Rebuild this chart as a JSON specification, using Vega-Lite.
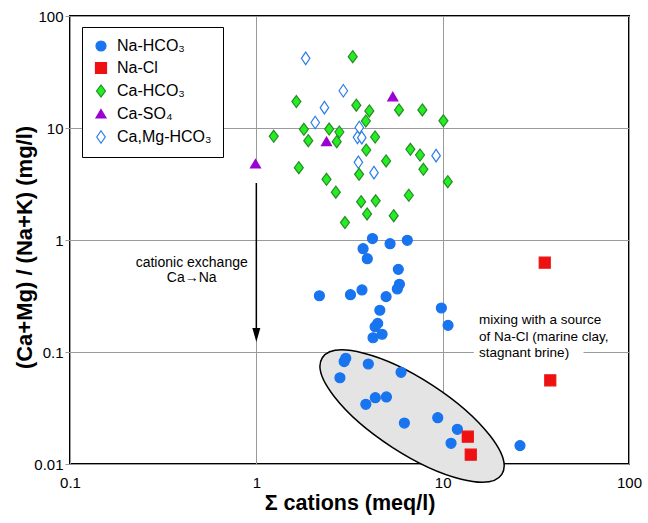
{
  "$schema": "https://vega.github.io/schema/vega-lite/v6.json",
  "width": 559,
  "height": 448,
  "autosize": {"type": "none"},
  "padding": {"left": 70, "top": 16, "right": 19, "bottom": 59},
  "background": "white",
  "config": {
    "view": {"stroke": "#000", "strokeWidth": 2},
    "font": "Liberation Sans",
    "text": {"font": "Liberation Sans"}
  },
  "datasets": {
    "samples": [
      {"type": "Ca,Mg-HCO3", "x": 1.84, "y": 41.9},
      {"type": "Ca,Mg-HCO3", "x": 2.93, "y": 21.5},
      {"type": "Ca,Mg-HCO3", "x": 2.32, "y": 15.2},
      {"type": "Ca,Mg-HCO3", "x": 2.07, "y": 11.2},
      {"type": "Ca,Mg-HCO3", "x": 3.57, "y": 10.1},
      {"type": "Ca,Mg-HCO3", "x": 3.49, "y": 8.25},
      {"type": "Ca,Mg-HCO3", "x": 3.68, "y": 8.19},
      {"type": "Ca,Mg-HCO3", "x": 3.53, "y": 4.94},
      {"type": "Ca,Mg-HCO3", "x": 4.28, "y": 3.99},
      {"type": "Ca,Mg-HCO3", "x": 9.22, "y": 5.66},
      {"type": "Ca-HCO3", "x": 3.29, "y": 43.3},
      {"type": "Ca-HCO3", "x": 1.64, "y": 17.2},
      {"type": "Ca-HCO3", "x": 3.44, "y": 16.0},
      {"type": "Ca-HCO3", "x": 4.04, "y": 14.2},
      {"type": "Ca-HCO3", "x": 3.87, "y": 11.55},
      {"type": "Ca-HCO3", "x": 5.83, "y": 14.5},
      {"type": "Ca-HCO3", "x": 7.78, "y": 14.5},
      {"type": "Ca-HCO3", "x": 10.09, "y": 11.6},
      {"type": "Ca-HCO3", "x": 1.24, "y": 8.43},
      {"type": "Ca-HCO3", "x": 1.8, "y": 9.73},
      {"type": "Ca-HCO3", "x": 1.9, "y": 7.7},
      {"type": "Ca-HCO3", "x": 2.46, "y": 9.79},
      {"type": "Ca-HCO3", "x": 2.79, "y": 9.21},
      {"type": "Ca-HCO3", "x": 2.7, "y": 7.55},
      {"type": "Ca-HCO3", "x": 4.34, "y": 8.31},
      {"type": "Ca-HCO3", "x": 3.89, "y": 6.36},
      {"type": "Ca-HCO3", "x": 6.71, "y": 6.45},
      {"type": "Ca-HCO3", "x": 7.56, "y": 5.74},
      {"type": "Ca-HCO3", "x": 4.97, "y": 5.08},
      {"type": "Ca-HCO3", "x": 7.88, "y": 4.28},
      {"type": "Ca-HCO3", "x": 1.69, "y": 4.42},
      {"type": "Ca-HCO3", "x": 3.56, "y": 3.86},
      {"type": "Ca-HCO3", "x": 2.38, "y": 3.48},
      {"type": "Ca-HCO3", "x": 10.65, "y": 3.32},
      {"type": "Ca-HCO3", "x": 2.67, "y": 2.67},
      {"type": "Ca-HCO3", "x": 3.65, "y": 2.2},
      {"type": "Ca-HCO3", "x": 4.37, "y": 2.24},
      {"type": "Ca-HCO3", "x": 6.58, "y": 2.51},
      {"type": "Ca-HCO3", "x": 3.93, "y": 1.71},
      {"type": "Ca-HCO3", "x": 5.46, "y": 1.65},
      {"type": "Ca-HCO3", "x": 2.99, "y": 1.43},
      {"type": "Ca-SO4", "x": 5.4, "y": 19.0},
      {"type": "Ca-SO4", "x": 2.38, "y": 7.55},
      {"type": "Ca-SO4", "x": 0.99, "y": 4.77},
      {"type": "Na-HCO3", "x": 4.2, "y": 1.03},
      {"type": "Na-HCO3", "x": 5.22, "y": 0.927},
      {"type": "Na-HCO3", "x": 6.46, "y": 0.994},
      {"type": "Na-HCO3", "x": 3.74, "y": 0.836},
      {"type": "Na-HCO3", "x": 3.94, "y": 0.681},
      {"type": "Na-HCO3", "x": 5.78, "y": 0.547},
      {"type": "Na-HCO3", "x": 5.86, "y": 0.402},
      {"type": "Na-HCO3", "x": 5.71, "y": 0.365},
      {"type": "Na-HCO3", "x": 2.18, "y": 0.318},
      {"type": "Na-HCO3", "x": 3.2, "y": 0.325},
      {"type": "Na-HCO3", "x": 3.69, "y": 0.358},
      {"type": "Na-HCO3", "x": 4.97, "y": 0.312},
      {"type": "Na-HCO3", "x": 4.6, "y": 0.236},
      {"type": "Na-HCO3", "x": 9.84, "y": 0.247},
      {"type": "Na-HCO3", "x": 10.69, "y": 0.173},
      {"type": "Na-HCO3", "x": 4.48, "y": 0.18},
      {"type": "Na-HCO3", "x": 4.34, "y": 0.168},
      {"type": "Na-HCO3", "x": 4.73, "y": 0.144},
      {"type": "Na-HCO3", "x": 4.23, "y": 0.134},
      {"type": "Na-HCO3", "x": 3.02, "y": 0.0879},
      {"type": "Na-HCO3", "x": 2.96, "y": 0.0822},
      {"type": "Na-HCO3", "x": 3.99, "y": 0.0781},
      {"type": "Na-HCO3", "x": 5.98, "y": 0.0659},
      {"type": "Na-HCO3", "x": 2.81, "y": 0.0589},
      {"type": "Na-HCO3", "x": 4.35, "y": 0.0391},
      {"type": "Na-HCO3", "x": 4.99, "y": 0.0397},
      {"type": "Na-HCO3", "x": 3.87, "y": 0.0341},
      {"type": "Na-HCO3", "x": 6.23, "y": 0.0232},
      {"type": "Na-HCO3", "x": 9.41, "y": 0.0259},
      {"type": "Na-HCO3", "x": 11.99, "y": 0.0204},
      {"type": "Na-HCO3", "x": 11.09, "y": 0.0153},
      {"type": "Na-HCO3", "x": 26.0, "y": 0.0146},
      {"type": "Na-Cl", "x": 13.64, "y": 0.01753},
      {"type": "Na-Cl", "x": 14.15, "y": 0.01211},
      {"type": "Na-Cl", "x": 35.3, "y": 0.627},
      {"type": "Na-Cl", "x": 37.8, "y": 0.0559}
    ]
  },
  "encoding": {
    "x": {
      "field": "x", "type": "quantitative",
      "scale": {"type": "log", "domain": [0.1, 100], "nice": false},
      "axis": {
        "values": [0.1, 1, 10, 100], "format": "~g",
        "title": "Σ cations (meq/l)",
        "grid": true, "gridColor": "#9a9a9a", "gridWidth": 1,
        "ticks": false, "domain": false,
        "labelFontSize": 15, "labelColor": "#000", "labelPadding": 11,
        "labelFlush": false, "labelOverlap": false,
        "titleFontSize": 21.5, "titleFontWeight": "bold", "titleColor": "#000",
        "titleY": 39, "titleBaseline": "middle"
      }
    },
    "y": {
      "field": "y", "type": "quantitative",
      "scale": {"type": "log", "domain": [0.01, 100], "nice": false},
      "axis": {
        "values": [0.01, 0.1, 1, 10, 100], "format": "~g",
        "title": "(Ca+Mg) / (Na+K) (mg/l)",
        "grid": true, "gridColor": "#9a9a9a", "gridWidth": 1,
        "ticks": true, "tickSize": 5, "tickColor": "#9a9a9a", "domain": false,
        "labelFontSize": 15, "labelColor": "#000", "labelPadding": 2,
        "labelFlush": false, "labelOverlap": false,
        "titleFontSize": 22, "titleFontWeight": "bold", "titleColor": "#000",
        "titleX": -46, "titleY": 231, "titleAngle": -90,
        "titleBaseline": "middle", "titleAlign": "center"
      }
    }
  },
  "layer": [
    {
      "data": {"values": [{"x": 6.85, "y": 0.0268}]},
      "mark": {
        "type": "point",
        "shape": "M 107 0 C 107 20.4 59.1 37 0 37 C -59.1 37 -107 20.4 -107 0 C -107 -20.4 -59.1 -37 0 -37 C 59.1 -37 107 -20.4 107 0 Z",
        "size": 4, "angle": 33, "filled": true,
        "fill": "#e4e4e4", "stroke": "#000", "strokeWidth": 1.5, "opacity": 1
      }
    },
    {
      "data": {"values": [{"x": 14.7, "x2": 57, "y": 0.0866, "y2": 0.1155}]},
      "mark": {"type": "rect", "fill": "#fff"},
      "encoding": {"x2": {"field": "x2"}, "y2": {"field": "y2"}}
    },
    {
      "data": {"values": [{"x": 1, "y": 4.4, "y2": 3.2}]},
      "mark": {"type": "rule", "color": "#fff", "strokeWidth": 3},
      "encoding": {"y2": {"field": "y2"}}
    },
    {
      "data": {"name": "samples"},
      "mark": {"type": "point", "size": 100, "opacity": 1, "strokeWidth": 1.2},
      "encoding": {
        "fill": {
          "field": "type", "type": "nominal",
          "scale": {
            "domain": ["Na-HCO3", "Na-Cl", "Ca-HCO3", "Ca-SO4", "Ca,Mg-HCO3"],
            "range": ["#1874ef", "#ee1111", "#22ee22", "#9b00d3", "#ffffff"]
          },
          "legend": {
            "title": null, "orient": "none", "legendX": 12, "legendY": 11,
            "labelFontSize": 16, "labelColor": "#000", "padding": 11,
            "strokeColor": "#000", "fillColor": "#fff",
            "rowPadding": 6, "labelOffset": 8, "symbolSize": 100,
            "symbolStrokeWidth": 1.2, "symbolOpacity": 1,
            "labelExpr": "replace(replace(datum.label, '3', '₃'), '4', '₄')"
          }
        },
        "stroke": {
          "field": "type", "type": "nominal",
          "scale": {
            "domain": ["Na-HCO3", "Na-Cl", "Ca-HCO3", "Ca-SO4", "Ca,Mg-HCO3"],
            "range": ["#1874ef", "#ee1111", "#2a8a2a", "#9b00d3", "#2b7de9"]
          },
          "legend": {
            "title": null, "orient": "none", "legendX": 12, "legendY": 11,
            "labelFontSize": 16, "labelColor": "#000", "padding": 11,
            "strokeColor": "#000", "fillColor": "#fff",
            "rowPadding": 6, "labelOffset": 8, "symbolSize": 100,
            "symbolStrokeWidth": 1.2, "symbolOpacity": 1,
            "labelExpr": "replace(replace(datum.label, '3', '₃'), '4', '₄')"
          }
        },
        "shape": {
          "field": "type", "type": "nominal",
          "scale": {
            "domain": ["Na-HCO3", "Na-Cl", "Ca-HCO3", "Ca-SO4", "Ca,Mg-HCO3"],
            "range": [
              "circle",
              "M -1.1 -1.1 L 1.1 -1.1 L 1.1 1.1 L -1.1 1.1 Z",
              "M 0 -1.2 L 0.9 0 L 0 1.2 L -0.9 0 Z",
              "M 0 -0.9 L 1 0.8 L -1 0.8 Z",
              "M 0 -1.25 L 0.85 0 L 0 1.25 L -0.85 0 Z"
            ]
          },
          "legend": {
            "title": null, "orient": "none", "legendX": 12, "legendY": 11,
            "labelFontSize": 16, "labelColor": "#000", "padding": 11,
            "strokeColor": "#000", "fillColor": "#fff",
            "rowPadding": 6, "labelOffset": 8, "symbolSize": 100,
            "symbolStrokeWidth": 1.2, "symbolOpacity": 1,
            "labelExpr": "replace(replace(datum.label, '3', '₃'), '4', '₄')"
          }
        }
      }
    },
    {
      "data": {"values": [{"x": 1, "y": 3.23, "y2": 0.135}]},
      "mark": {"type": "rule", "color": "#000", "strokeWidth": 1.5},
      "encoding": {"y2": {"field": "y2"}}
    },
    {
      "data": {"values": [{"x": 1, "y": 0.1228}]},
      "mark": {
        "type": "point", "shape": "M 0 0 L -4 -14 L 4 -14 Z",
        "size": 4, "filled": true, "fill": "#000", "strokeWidth": 0, "opacity": 1
      }
    },
    {
      "data": {"values": [
        {"x": 0.45, "y": 0.627, "text": "cationic exchange"},
        {"x": 0.45, "y": 0.455, "text": "Ca→Na"}
      ]},
      "mark": {"type": "text", "align": "center", "baseline": "middle", "fontSize": 14, "color": "#000"},
      "encoding": {"text": {"field": "text"}}
    },
    {
      "data": {"values": [
        {"x": 15.68, "y": 0.193, "text": "mixing with a source"},
        {"x": 15.68, "y": 0.1375, "text": "of Na-Cl (marine clay,"},
        {"x": 15.68, "y": 0.098, "text": "stagnant brine)"}
      ]},
      "mark": {"type": "text", "align": "left", "baseline": "middle", "fontSize": 13.5, "color": "#000"},
      "encoding": {"text": {"field": "text"}}
    }
  ]
}
